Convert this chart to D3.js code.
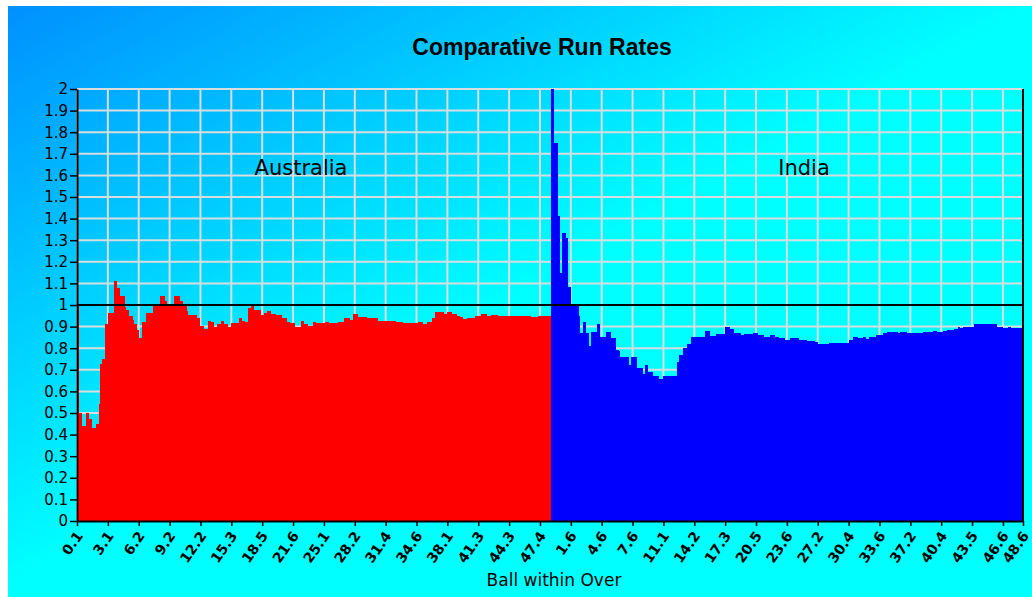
<!DOCTYPE html>
<html>
<head>
<meta charset="utf-8">
<script src="https://cdn.jsdelivr.net/npm/d3@7"></script>
<style>
  html, body { margin: 0; padding: 0; background: #ffffff; }
  svg { display: block; }
</style>
</head>
<body>
<script>
'use strict';
// run rate per ball: [ball index in innings, rate]
const ausBall = [0, 1, 3, 6, 8, 10, 12, 14, 15, 16, 18, 20, 24, 26, 28, 31, 32, 34, 36, 37, 39, 40, 42, 45, 49, 54, 57, 58, 63, 67, 69, 71, 72, 78, 80, 82, 85, 87, 89, 91, 93, 95, 98, 100, 105, 107, 109, 111, 113, 115, 119, 121, 123, 126, 129, 133, 136, 138, 141, 145, 147, 150, 153, 155, 161, 163, 169, 173, 177, 179, 182, 188, 195, 203, 207, 211, 221, 224, 227, 230, 232, 238, 240, 243, 246, 248, 250, 253, 258, 262, 266, 268, 273, 275, 294, 299];
const ausRate = [1.0, 0.5, 0.44, 0.5, 0.47, 0.43, 0.45, 0.54, 0.725, 0.75, 0.91, 0.965, 1.11, 1.08, 1.04, 0.99, 0.975, 0.95, 0.93, 0.91, 0.885, 0.845, 0.92, 0.965, 1.0, 1.04, 1.02, 1.0, 1.04, 1.02, 1.0, 0.97, 0.955, 0.94, 0.905, 0.89, 0.925, 0.92, 0.9, 0.91, 0.925, 0.91, 0.9, 0.915, 0.94, 0.925, 0.92, 0.985, 0.995, 0.975, 0.955, 0.965, 0.97, 0.96, 0.955, 0.94, 0.92, 0.915, 0.9, 0.925, 0.912, 0.903, 0.92, 0.915, 0.92, 0.915, 0.92, 0.938, 0.93, 0.957, 0.945, 0.94, 0.928, 0.925, 0.92, 0.915, 0.92, 0.913, 0.92, 0.94, 0.966, 0.957, 0.966, 0.957, 0.95, 0.945, 0.935, 0.94, 0.95, 0.957, 0.95, 0.956, 0.948, 0.95, 0.945, 0.95];
const ausBalls = 307;

const indBall = [0, 2, 5, 6, 7, 10, 11, 13, 18, 19, 21, 23, 25, 26, 30, 32, 36, 39, 42, 44, 45, 51, 52, 56, 60, 61, 63, 66, 70, 73, 82, 83, 86, 88, 91, 100, 103, 107, 113, 116, 119, 123, 125, 131, 134, 138, 142, 145, 148, 152, 155, 157, 161, 166, 171, 173, 180, 193, 196, 199, 202, 204, 206, 211, 215, 218, 225, 226, 231, 235, 241, 248, 250, 254, 257, 261, 264, 265, 267, 274, 289, 293, 296, 298];
const indRate = [2.0, 1.75, 1.41, 1.15, 1.335, 1.31, 1.085, 1.0, 0.95, 0.87, 0.92, 0.87, 0.81, 0.875, 0.91, 0.85, 0.875, 0.845, 0.79, 0.785, 0.76, 0.72, 0.76, 0.71, 0.68, 0.72, 0.69, 0.67, 0.657, 0.67, 0.735, 0.77, 0.8, 0.82, 0.85, 0.88, 0.857, 0.865, 0.9, 0.89, 0.87, 0.86, 0.865, 0.87, 0.862, 0.853, 0.86, 0.853, 0.845, 0.838, 0.845, 0.848, 0.84, 0.833, 0.828, 0.818, 0.826, 0.84, 0.853, 0.845, 0.853, 0.843, 0.853, 0.862, 0.87, 0.876, 0.87, 0.876, 0.872, 0.87, 0.876, 0.88, 0.876, 0.88, 0.884, 0.89, 0.9, 0.893, 0.9, 0.91, 0.9, 0.895, 0.9, 0.895];
const indBalls = 307;

const xTickLabels = ["0.1", "3.1", "6.2", "9.2", "12.2", "15.3", "18.5", "21.6", "25.1", "28.2", "31.4", "34.6", "38.1", "41.3", "44.3", "47.4",
  "1.6", "4.6", "7.6", "11.1", "14.2", "17.3", "20.5", "23.6", "27.2", "30.4", "33.6", "37.2", "40.4", "43.5", "46.6", "48.6"];
const tickEvery = 20;
const yTicks = d3.range(0, 21).map((d) => d / 10);
const teams = ["Australia", "India"];
const teamColors = ["#ff0000", "#0000ff"];

const W = 1032, H = 597;
const plot = { left: 77, right: 1023, top: 89, bottom: 521 };

const svg = d3.select('body').append('svg')
  .attr('width', W)
  .attr('height', H);

function drawBackground() {
  let grad = svg.append('defs').append('linearGradient')
    .attr('id', 'bg')
    .attr('gradientUnits', 'userSpaceOnUse')
    .attr('x1', 8).attr('y1', 6)
    .attr('x2', 255).attr('y2', 445);
  grad.append('stop').attr('offset', 0).attr('stop-color', '#0090ff');
  grad.append('stop').attr('offset', 1).attr('stop-color', '#00ffff');
  svg.append('rect')
    .attr('x', 8).attr('y', 6)
    .attr('width', W - 8).attr('height', H - 6)
    .attr('fill', 'url(#bg)');
}

function makeChart() {
  let total = ausBalls + indBalls;
  let x = d3.scaleLinear().domain([0, total - 1]).range([plot.left, plot.right]);
  let y = d3.scaleLinear().domain([0, 2]).range([plot.bottom, plot.top]);

  let tickIdx = d3.range(0, total - 1, tickEvery).concat([total - 1]);

  // grid
  let grid = svg.append('g').attr('stroke', '#d8dde0').attr('stroke-width', 2);
  grid.selectAll('.hg').data(yTicks.slice(1)).enter().append('line')
    .attr('x1', plot.left).attr('x2', plot.right)
    .attr('y1', (d) => y(d)).attr('y2', (d) => y(d));
  grid.selectAll('.vg').data(tickIdx).enter().append('line')
    .attr('x1', (d) => x(d)).attr('x2', (d) => x(d))
    .attr('y1', plot.top).attr('y2', plot.bottom);

  // areas
  let aus = ausBall.map((b, i) => [b, ausRate[i]]);
  aus.push([ausBalls, ausRate[ausRate.length - 1]]);
  let ind = indBall.map((b, i) => [b + ausBalls, indRate[i]]);
  ind.push([total - 1, indRate[indRate.length - 1]]);

  let area = d3.area()
    .curve(d3.curveStepAfter)
    .x((d) => x(d[0]))
    .y0(y(0))
    .y1((d) => y(d[1]));

  [aus, ind].forEach((series, i) => {
    svg.append('path')
      .datum(series)
      .attr('fill', teamColors[i])
      .attr('shape-rendering', 'crispEdges')
      .attr('d', area);
  });

  // par line
  svg.append('line')
    .attr('x1', plot.left).attr('x2', plot.right)
    .attr('y1', y(1)).attr('y2', y(1))
    .attr('stroke', 'black').attr('stroke-width', 2);

  // axes
  let yAxis = d3.axisLeft(y).tickValues(yTicks).tickSize(7).tickSizeOuter(0)
    .tickFormat((d) => String(+d.toFixed(1)));
  let gy = svg.append('g')
    .attr('transform', 'translate(' + plot.left + ', 0)')
    .call(yAxis);
  gy.select('.domain').attr('stroke-width', 2);
  gy.selectAll('line').attr('stroke-width', 1.5);
  gy.selectAll('text')
    .attr('x', -9)
    .style('font-family', 'DejaVu Sans')
    .style('font-size', '15px')
    .attr('fill', 'black');

  let xAxis = d3.axisBottom(x).tickValues(tickIdx).tickSize(5).tickSizeOuter(0)
    .tickFormat((d, i) => xTickLabels[i]);
  let gx = svg.append('g')
    .attr('transform', 'translate(0, ' + plot.bottom + ')')
    .call(xAxis);
  gx.select('.domain').attr('stroke-width', 2);
  gx.selectAll('line').attr('stroke-width', 1.5);
  gx.selectAll('text')
    .attr('y', 0).attr('dy', '0.35em')
    .attr('text-anchor', 'end')
    .attr('transform', 'translate(2, 12) rotate(-55)')
    .style('font-family', 'DejaVu Sans')
    .style('font-weight', 'bold')
    .style('font-size', '14px')
    .attr('fill', 'black');

  // right border
  svg.append('line')
    .attr('x1', plot.right).attr('x2', plot.right)
    .attr('y1', plot.top).attr('y2', plot.bottom)
    .attr('stroke', 'black').attr('stroke-width', 2);

  // labels
  svg.append('text')
    .attr('x', 542).attr('y', 55)
    .attr('text-anchor', 'middle')
    .style('font-family', 'Liberation Sans')
    .style('font-weight', 'bold')
    .style('font-size', '23px')
    .text('Comparative Run Rates');

  [301, 804].forEach((cx, i) => {
    svg.append('text')
      .attr('x', cx).attr('y', 175)
      .attr('text-anchor', 'middle')
      .style('font-family', 'DejaVu Sans')
      .style('font-size', '21px')
      .text(teams[i]);
  });

  svg.append('text')
    .attr('x', 554).attr('y', 586)
    .attr('text-anchor', 'middle')
    .style('font-family', 'DejaVu Sans')
    .style('font-size', '17px')
    .text('Ball within Over');
}

drawBackground();
makeChart();
</script>
</body>
</html>
